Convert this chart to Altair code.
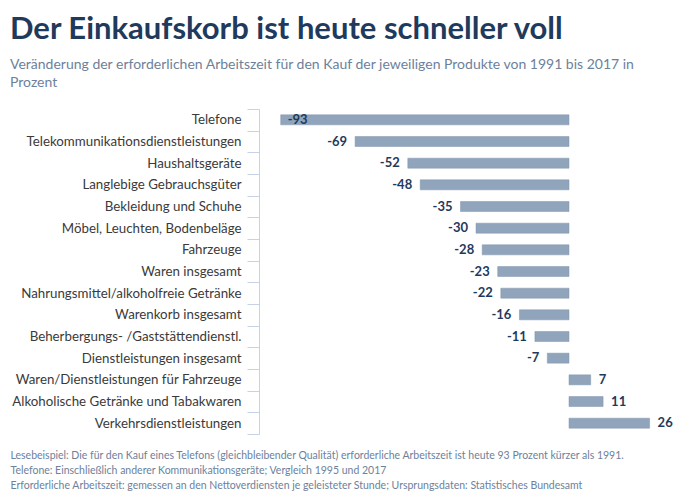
import altair as alt
import pandas as pd

categories = [
    "Telefone",
    "Telekommunikationsdienstleistungen",
    "Haushaltsgeräte",
    "Langlebige Gebrauchsgüter",
    "Bekleidung und Schuhe",
    "Möbel, Leuchten, Bodenbeläge",
    "Fahrzeuge",
    "Waren insgesamt",
    "Nahrungsmittel/alkoholfreie Getränke",
    "Warenkorb insgesamt",
    "Beherbergungs- /Gaststättendienstl.",
    "Dienstleistungen insgesamt",
    "Waren/Dienstleistungen für Fahrzeuge",
    "Alkoholische Getränke und Tabakwaren",
    "Verkehrsdienstleistungen",
]
values = [-93, -69, -52, -48, -35, -30, -28, -23, -22, -16, -11, -7, 7, 11, 26]

title_text = "Der Einkaufskorb ist heute schneller voll"
subtitle_lines = [
    "Veränderung der erforderlichen Arbeitszeit für den Kauf der jeweiligen Produkte von 1991 bis 2017 in",
    "Prozent",
]
footer_lines = [
    "Lesebeispiel: Die für den Kauf eines Telefons (gleichbleibender Qualität) erforderliche Arbeitszeit ist heute 93 Prozent kürzer als 1991.",
    "Telefone: Einschließlich anderer Kommunikationsgeräte; Vergleich 1995 und 2017",
    "Erforderliche Arbeitszeit: gemessen an den Nettoverdiensten je geleisteter Stunde; Ursprungsdaten: Statistisches Bundesamt",
]

df = pd.DataFrame({"cat": categories, "val": values})
df["lab"] = df["val"].astype(str)

FONT = "Lato"
NAVY = "#1f3a5c"
BAR = "#90a5bc"
AXIS = "#c7d2e6"
GREY = "#6d819b"

x_enc = alt.X(
    "val:Q",
    scale=alt.Scale(domain=[-100, 30], nice=False),
    axis=alt.Axis(
        domain=False, ticks=False, labels=False, grid=False,
        title=footer_lines,
        titleFont=FONT, titleFontSize=10.5, titleFontWeight="normal",
        titleColor=GREY, titleAlign="left", titleAnchor="start",
        titleBaseline="top", titleLineHeight=15,
        titleX=-249, titleY=16,
    ),
)
y_enc = alt.Y(
    "cat:N",
    sort=categories,
    scale=alt.Scale(paddingInner=0, paddingOuter=0),
    axis=alt.Axis(
        title=None,
        domainColor=AXIS, tickColor=AXIS, tickSize=12, tickBand="extent",
        labelPadding=6, labelFont=FONT, labelFontSize=13.3, labelColor="#3a3a3a",
        labelLimit=400,
    ),
)

base = alt.Chart(df).encode(x=x_enc, y=y_enc)

bars = base.mark_bar(size=10, color=BAR, stroke="#8095ad", strokeWidth=0.5)

lab_neg = base.transform_filter("datum.val < 0 && datum.val > -90").mark_text(
    align="right", dx=-8, font=FONT, fontSize=13, fontWeight="bold", color=NAVY
).encode(text="lab:N")
lab_in = base.transform_filter("datum.val <= -90").mark_text(
    align="left", dx=7, font=FONT, fontSize=13, fontWeight="bold", color=NAVY
).encode(text="lab:N")
lab_pos = base.transform_filter("datum.val > 0").mark_text(
    align="left", dx=8, font=FONT, fontSize=13, fontWeight="bold", color=NAVY
).encode(text="lab:N")

chart = alt.layer(bars, lab_neg, lab_in, lab_pos).properties(
    width=403,
    height=325,
    padding={"left": 2, "top": 6, "right": 5, "bottom": 5},
    title=alt.TitleParams(
        text=title_text,
        subtitle=subtitle_lines,
        anchor="start",
        frame="bounds",
        font=FONT, fontSize=31, fontWeight="bold", color=NAVY,
        subtitleFont=FONT, subtitleFontSize=14, subtitleColor=GREY,
        subtitleLineHeight=18, subtitlePadding=12, offset=11,
    ),
).configure(background="white").configure_view(stroke="transparent", strokeWidth=0)

chart.save("out.html", embed_options={"renderer": "svg", "actions": False})
